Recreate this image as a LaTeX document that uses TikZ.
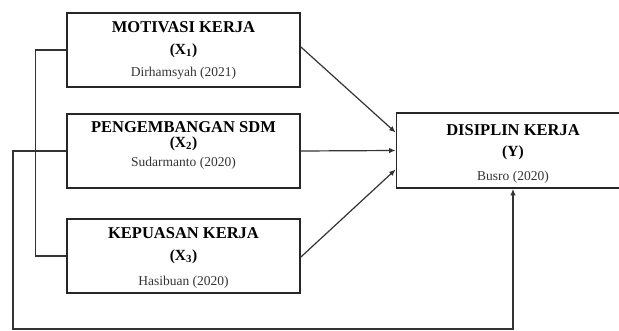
\documentclass[tikz,border=0pt]{standalone}
\usepackage{fontspec}
\setmainfont{Liberation Serif}
\usetikzlibrary{arrows.meta,calc}
\begin{document}
\begin{tikzpicture}[x=1pt,y=-1pt,
  box/.style={draw=black!85, line width=1.8pt, minimum width=233pt, minimum height=74pt, inner sep=0pt},
  ttl/.style={font=\fontsize{16.5}{18}\selectfont\bfseries, inner sep=0pt},
  var/.style={font=\fontsize{15.5}{17}\selectfont\bfseries, inner sep=0pt},
  src/.style={font=\fontsize{13.5}{15}\selectfont, text=black!80, inner sep=0pt},
  conn/.style={draw=black!80, line width=1.2pt},
  arr/.style={conn, -{Latex[length=6.5pt,width=5.5pt]}}]
\useasboundingbox (0,0) rectangle (619,331);
\begin{scope}
\clip (0,0) rectangle (619,331);
\node[box] (x1) at (183.5,50) {};
\node[box] (x2) at (183.5,151) {};
\node[box] (x3) at (183.5,256) {};
\node[box, minimum height=75pt] (y) at (513,150.5) {};

\node[ttl] (t1) at (183.5,27) {MOTIVASI KERJA};
\node[var] (v1) at (183.5,51) {(X\textsubscript{1})};
\node[src] (s1) at (183.5,73) {Dirhamsyah (2021)};

\node[ttl] (t2) at (183.5,127) {PENGEMBANGAN SDM};
\node[var] (v2) at (183.5,144) {(X\textsubscript{2})};
\node[src] (s2) at (183.5,163) {Sudarmanto (2020)};

\node[ttl] (t3) at (183.5,233) {KEPUASAN KERJA};
\node[var] (v3) at (183.5,257) {(X\textsubscript{3})};
\node[src] (s3) at (183.5,282) {Hasibuan (2020)};

\node[ttl] (ty) at (513,130) {DISIPLIN KERJA};
\node[var] (vy) at (513,153) {(Y)};
\node[src] (sy) at (513,177) {Busro (2020)};

\draw[arr] ($(x1.east)+(0,-3)$) -- ($(y.west)+(0,-18)$);
\draw[arr] (x2.east) -- (y.west);
\draw[arr] ($(x3.east)+(0,1)$) -- ($(y.west)+(0,19)$);

\draw[conn] (x1.west) -- ++(-31,0) |- (x3.west);
\coordinate (fb) at (13,329);
\draw[arr] (x2.west) -- (x2.west -| fb) -- (fb) -- (fb -| y.south) -- (y.south);
\end{scope}
\end{tikzpicture}
\end{document}
